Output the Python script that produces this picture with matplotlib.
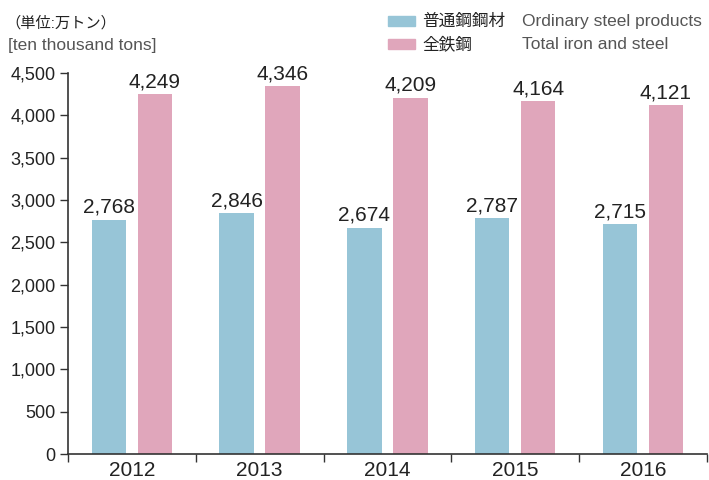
import matplotlib
matplotlib.use("Agg")
import matplotlib.pyplot as plt
from matplotlib.patches import Rectangle
import numpy as np

plt.rcParams['font.family'] = ['Liberation Sans', 'Noto Sans CJK JP', 'DejaVu Sans']

years = ['2012', '2013', '2014', '2015', '2016']
ordinary = [2768, 2846, 2674, 2787, 2715]
total = [4249, 4346, 4209, 4164, 4121]

blue = '#97c5d7'
pink = '#e0a6bb'
txt = '#222222'
gray = '#555555'

fig = plt.figure(figsize=(7.09, 4.8), dpi=100)
ax = fig.add_axes([0.096, 0.054, 0.901, 0.794])

x = np.arange(len(years))
w = 0.27
b1 = ax.bar(x - 0.18, ordinary, w, color=blue)
b2 = ax.bar(x + 0.18, total, w, color=pink)

for bars, vals in ((b1, ordinary), (b2, total)):
    for r, v in zip(bars, vals):
        ax.text(r.get_x() + r.get_width() / 2, v + 35, f'{v:,}',
                ha='center', va='bottom', fontsize=15, color=txt)

ax.set_xlim(-0.5, len(years) - 0.5)
ax.set_ylim(0, 4500)
ax.set_yticks(np.arange(0, 4501, 500))
ax.set_yticklabels([f'{v:,}' for v in range(0, 4501, 500)])
ax.set_xticks(np.arange(-0.5, len(years), 1.0))
ax.set_xticklabels([])
ax.set_xticks(x, minor=True)
ax.set_xticklabels(years, minor=True)
ax.tick_params(axis='x', which='major', length=6, width=1, color='#333333', direction='out')
ax.tick_params(axis='x', which='minor', length=0, pad=5, labelsize=15, labelcolor=txt)
ax.tick_params(axis='y', length=6, width=1, color='#333333', labelsize=13, labelcolor=txt, pad=3)
for s in ('top', 'right'):
    ax.spines[s].set_visible(False)
for s in ('left', 'bottom'):
    ax.spines[s].set_color('#333333')
    ax.spines[s].set_linewidth(1.2)

# unit text
fig.text(0.008, 0.952, '（単位:万トン）', fontsize=11, color=txt, va='center')
fig.text(0.011, 0.906, '[ten thousand tons]', fontsize=12.5, color=gray, va='center')

# legend
for i, (c, jp, en) in enumerate([(blue, '普通鋼鋼材', 'Ordinary steel products'),
                                  (pink, '全鉄鋼', 'Total iron and steel')]):
    yc = 0.956 - i * 0.048
    fig.patches.append(Rectangle((0.547, yc - 0.011), 0.039, 0.022,
                                 transform=fig.transFigure, color=c))
    fig.text(0.596, yc, jp, fontsize=12, color=txt, va='center')
    fig.text(0.736, yc, en, fontsize=12.5, color=gray, va='center')

fig.savefig('out.png', dpi=100)
